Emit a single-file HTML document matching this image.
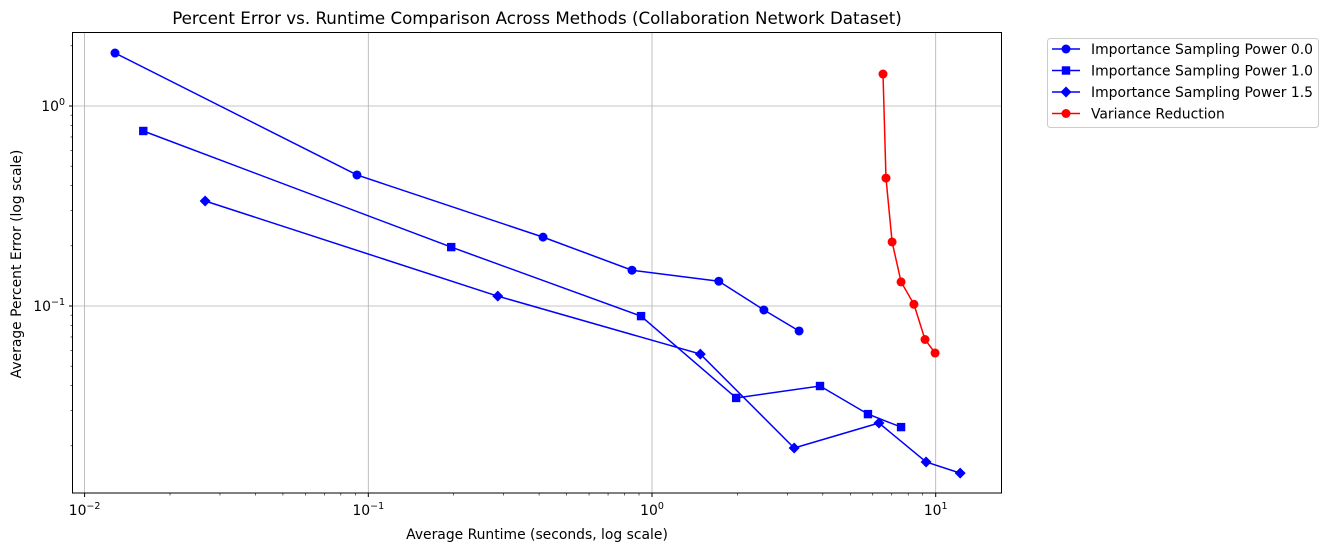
<!DOCTYPE html>
<html><head><meta charset="utf-8"><style>
body{margin:0;background:#fff;}
svg text{font-family:"DejaVu Sans","Liberation Sans",sans-serif;}
</style></head><body>
<svg id="chart" width="1328" height="552" xmlns="http://www.w3.org/2000/svg">
<rect width="1328" height="552" fill="#fff"/>
<g id="grid"></g>
<g id="ticks"></g>
<g id="series"></g>
<rect x="72.5" y="32.5" width="929" height="460.5" fill="none" stroke="#000" stroke-width="1"/>
<text x="537" y="24" text-anchor="middle" font-size="16.7">Percent Error vs. Runtime Comparison Across Methods (Collaboration Network Dataset)</text>
<text x="537" y="539" text-anchor="middle" font-size="13.9">Average Runtime (seconds, log scale)</text>
<text transform="translate(21,264) rotate(-90)" text-anchor="middle" font-size="13.9">Average Percent Error (log scale)</text>
<g id="legend">
<rect x="1047.5" y="38.5" width="271" height="89" rx="3" fill="#fff" stroke="#ccc"/>
</g>
</svg>
<script>
const seriesNames=["Importance Sampling Power 0.0","Importance Sampling Power 1.0","Importance Sampling Power 1.5","Variance Reduction"];
const runtime0=[0.0128,0.0912,0.413,0.85,1.72,2.48,3.30];
const error0=[1.84,0.452,0.221,0.151,0.133,0.0955,0.075];
const runtime1=[0.0161,0.196,0.915,1.98,3.91,5.77,7.55];
const error1=[0.75,0.197,0.089,0.0347,0.0398,0.0288,0.0248];
const runtime2=[0.0266,0.286,1.48,3.17,6.31,9.25,12.2];
const error2=[0.335,0.112,0.0575,0.0195,0.026,0.0166,0.0146];
const runtime3=[6.52,6.68,7.02,7.55,8.38,9.17,9.95];
const error3=[1.445,0.436,0.209,0.132,0.102,0.068,0.0582];
const xTickExp=["−2","−1","0","1"];
const yTickExp=["−1","0"];

const NS="http://www.w3.org/2000/svg";
function X(v){return 652+283.7*Math.log10(v);}
function Y(v){return 106-200*Math.log10(v);}
function mk(t,a,p){const e=document.createElementNS(NS,t);for(const k in a)e.setAttribute(k,a[k]);p.appendChild(e);return e;}
function lbl(t,e){const b=document.createElementNS(NS,'tspan');b.textContent='10';t.appendChild(b);const s=document.createElementNS(NS,'tspan');s.setAttribute('dy','-6');s.setAttribute('font-size','9.5');s.textContent=e;t.appendChild(s);}
const grid=document.getElementById('grid'),ticks=document.getElementById('ticks'),ser=document.getElementById('series');
xTickExp.forEach((l,i)=>{const x=X(Math.pow(10,i-2));
 const g=mk('line',{x1:x,x2:x,y1:32,y2:493,stroke:'#b0b0b0','stroke-width':0.8},grid);
 
 
 mk('line',{x1:x,x2:x,y1:493,y2:497,stroke:'#000'},ticks);
 const t=mk('text',{x:x,y:515,'text-anchor':'middle','font-size':13.9},ticks);lbl(t,l);
 
 
});
for(let d=-2;d<=1;d++)for(let m=2;m<10;m++){const x=X(m*Math.pow(10,d));if(x>73&&x<1002)mk('line',{x1:x,x2:x,y1:493,y2:495.5,stroke:'#000','stroke-width':0.6},ticks);}
yTickExp.forEach((l,i)=>{const y=Y(Math.pow(10,i-1));
 const g=mk('line',{x1:73,x2:1002,y1:y,y2:y,stroke:'#b0b0b0','stroke-width':0.8},grid);
 
 
 mk('line',{x1:69,x2:73,y1:y,y2:y,stroke:'#000'},ticks);
 const t=mk('text',{x:65,y:y+5,'text-anchor':'end','font-size':13.9},ticks);lbl(t,l);
 
 
});
for(let d=-2;d<=0;d++)for(let m=2;m<10;m++){const y=Y(m*Math.pow(10,d));if(y>33&&y<493)mk('line',{x1:70.5,x2:73,y1:y,y2:y,stroke:'#000','stroke-width':0.6},ticks);}
function marker(type,x,y,c,p){
 if(type==='o')return mk('circle',{cx:x,cy:y,r:4.5,fill:c},p);
 if(type==='s')return mk('rect',{x:x-4.2,y:y-4.2,width:8.4,height:8.4,fill:c},p);
 return mk('polygon',{points:`${x},${y-5.5} ${x+5.5},${y} ${x},${y+5.5} ${x-5.5},${y}`,fill:c},p);
}
const all=[[runtime0,error0,'o','#0000ff'],[runtime1,error1,'s','#0000ff'],[runtime2,error2,'d','#0000ff'],[runtime3,error3,'o','#ff0000']];
all.forEach((s,i)=>{
 const g=mk('g',{},ser);
 
 
 const pts=s[0].map((v,j)=>X(v)+','+Y(s[1][j])).join(' ');
 mk('polyline',{points:pts,fill:'none',stroke:s[3],'stroke-width':1.5},g);
 s[0].forEach((v,j)=>{const m=marker(s[2],X(v),Y(s[1][j]),s[3],g);
  
  });
 const lg=document.getElementById('legend');
 const ly=49+i*21.5;
 const e=mk('g',{},lg);
 
 
 mk('line',{x1:1052,x2:1080,y1:ly,y2:ly,stroke:s[3],'stroke-width':1.5},e);
 marker(s[2],1066,ly,s[3],e);
 const t=mk('text',{x:1091,y:ly+5,'font-size':13.9},e);t.textContent=seriesNames[i];
});
</script>
</body></html>
